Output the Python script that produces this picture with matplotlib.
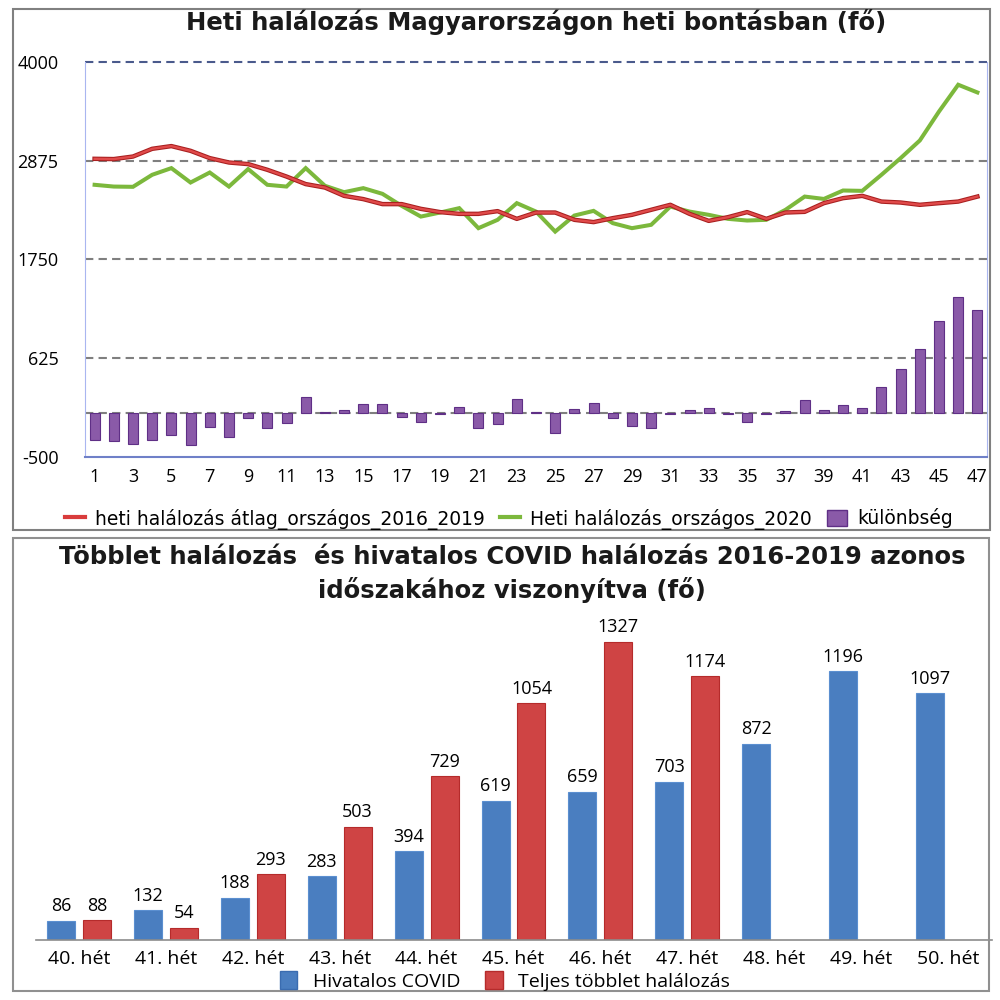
import numpy as np
import matplotlib
matplotlib.use('Agg')
import matplotlib.pyplot as plt
import matplotlib.patheffects as pe
from matplotlib.lines import Line2D
from matplotlib.patches import Patch, Rectangle

# --- adatok: felső ábra (heti halálozás) ---
weeks = np.arange(1, 48)
avg_2016_2019 = [2897, 2894, 2923, 3011, 3042, 2988, 2905, 2855, 2837, 2772,
                 2695, 2609, 2570, 2475, 2438, 2381, 2381, 2327, 2290, 2270,
                 2270, 2301, 2213, 2285, 2285, 2202, 2176, 2221, 2259, 2316,
                 2373, 2270, 2190, 2232, 2290, 2213, 2285, 2293, 2392, 2449,
                 2475, 2410, 2399, 2373, 2392, 2410, 2467]
deaths_2020 = [2601, 2581, 2578, 2715, 2791, 2627, 2741, 2581, 2780, 2601,
               2581, 2791, 2590, 2517, 2563, 2498, 2361, 2239, 2285, 2335,
               2107, 2202, 2392, 2296, 2068, 2251, 2304, 2164, 2107, 2145,
               2353, 2296, 2259, 2213, 2194, 2202, 2316, 2467, 2440, 2536,
               2532, 2715, 2905, 3106, 3436, 3741, 3653]
difference = [-306, -318, -352, -306, -253, -363, -158, -275, -52, -169,
              -116, 184, 15, 32, 108, 108, -41, -98, -5, 67,
              -169, -124, 165, 10, -230, 44, 119, -52, -147, -173,
              -15, 36, 59, -15, -98, -5, 24, 155, 40, 88,
              54, 293, 503, 729, 1054, 1327, 1174]
y_ticks = [-500, 625, 1750, 2875, 4000]

# --- adatok: alsó ábra (többlet vs. COVID) ---
week_labels = ['40. hét', '41. hét', '42. hét', '43. hét', '44. hét', '45. hét',
               '46. hét', '47. hét', '48. hét', '49. hét', '50. hét']
official_covid = [86, 132, 188, 283, 394, 619, 659, 703, 872, 1196, 1097]
excess_total = [88, 54, 293, 503, 729, 1054, 1327, 1174]

# színek
c_red = '#d93c3c'
c_red_dark = '#a81f1f'
c_green = '#7cb83c'
c_purple = '#8a5aa8'
c_blue_bar = '#4a7ec0'
c_red_bar = '#cf4444'
c_grid = '#7f7f7f'

label_font = ['Open Sans', 'DejaVu Sans']

fig = plt.figure(figsize=(10, 10), dpi=100)

# keretek a két panel körül
fig.patches.append(Rectangle((0.013, 0.470), 0.977, 0.521, transform=fig.transFigure,
                             fill=False, edgecolor='#808080', linewidth=1.5))
fig.patches.append(Rectangle((0.013, 0.009), 0.976, 0.453, transform=fig.transFigure,
                             fill=False, edgecolor='#909090', linewidth=1.5))

# ---------------- felső ábra ----------------
ax1 = fig.add_axes([0.085, 0.543, 0.902, 0.395])
ax1.set_xlim(0.5, 47.5)
ax1.set_ylim(-500, 4000)

for yv in [0, 625, 1750, 2875]:
    ax1.axhline(yv, color=c_grid, lw=1.5, ls=(0, (4, 2.5)), zorder=1)
ax1.axhline(4000, color='#4a5a8c', lw=1.5, ls=(0, (4, 2.5)), zorder=1, clip_on=False)

ax1.bar(weeks, difference, width=0.52, color=c_purple, edgecolor='#5f2f86',
        linewidth=0.8, zorder=2)
ax1.plot(weeks, deaths_2020, color=c_green, lw=2.9, zorder=3,
         solid_joinstyle='miter')
ax1.plot(weeks, avg_2016_2019, color='#e04a4a', lw=1.7, zorder=4,
         path_effects=[pe.Stroke(linewidth=3.2, foreground=c_red_dark), pe.Normal()])

ax1.set_yticks(y_ticks)
ax1.set_yticklabels([str(v) for v in y_ticks], fontsize=13, family=label_font)
ax1.set_xticks(range(1, 48, 2))
ax1.set_xticklabels([str(v) for v in range(1, 48, 2)], fontsize=13, family=label_font)
ax1.tick_params(axis='y', length=0, pad=19)
ax1.tick_params(axis='x', length=0, pad=8)

ax1.spines['top'].set_visible(False)
ax1.spines['left'].set_color('#a9b6f0')
ax1.spines['right'].set_color('#a9b6f0')
ax1.spines['bottom'].set_color('#6f80c8')
ax1.spines['bottom'].set_linewidth(1.5)

fig.text(0.536, 0.978, 'Heti halálozás Magyarországon heti bontásban (fő)',
         ha='center', va='center', fontsize=17.5, fontweight='bold', color='#1a1a1a')

top_handles = [Line2D([], [], color=c_red, lw=3),
               Line2D([], [], color=c_green, lw=3),
               Patch(facecolor=c_purple, edgecolor='#5f2f86')]
fig.legend(top_handles,
           ['heti halálozás átlag_országos_2016_2019', 'Heti halálozás_országos_2020',
            'különbség'],
           loc='center', bbox_to_anchor=(0.509, 0.481), ncol=3, frameon=False,
           fontsize=13.5, handlelength=1.07, handleheight=1.0, columnspacing=0.8,
           handletextpad=0.53)

# ---------------- alsó ábra ----------------
ax2 = fig.add_axes([0.0355, 0.06, 0.956, 0.3147])
x = np.arange(len(week_labels))
w = 0.322
off = 0.207
b1 = ax2.bar(x - off, official_covid, width=w, color=c_blue_bar,
             edgecolor='#5b8fd0', linewidth=0.8)
b2 = ax2.bar(x[:len(excess_total)] + off, excess_total, width=w, color=c_red_bar,
             edgecolor='#b52b2b', linewidth=0.8)
ax2.bar_label(b1, padding=4, fontsize=13, family=label_font)
ax2.bar_label(b2, padding=4, fontsize=13, family=label_font)

ax2.set_xlim(-0.5, len(week_labels) - 0.5)
ax2.set_ylim(0, 1400)
ax2.set_yticks([])
ax2.set_xticks(x)
ax2.set_xticklabels(week_labels, fontsize=14, family=label_font)
ax2.tick_params(axis='x', length=0, pad=7)
for s in ['top', 'left', 'right']:
    ax2.spines[s].set_visible(False)
ax2.spines['bottom'].set_color('#8c8c8c')
ax2.spines['bottom'].set_linewidth(1.2)

fig.text(0.5125, 0.443, 'Többlet halálozás  és hivatalos COVID halálozás 2016-2019 azonos',
         ha='center', va='center', fontsize=17.5, fontweight='bold', color='#1a1a1a')
fig.text(0.512, 0.410, 'időszakához viszonyítva (fő)',
         ha='center', va='center', fontsize=17.5, fontweight='bold', color='#1a1a1a')

bottom_handles = [Patch(facecolor=c_blue_bar, edgecolor='#3a6cb0'),
                  Patch(facecolor=c_red_bar, edgecolor='#b52b2b')]
fig.legend(bottom_handles, ['Hivatalos COVID', 'Teljes többlet halálozás'],
           loc='center', bbox_to_anchor=(0.505, 0.019), ncol=2, frameon=False,
           prop={'family': label_font, 'size': 14},
           handlelength=0.88, handleheight=1.0, columnspacing=1.3, handletextpad=0.8)

fig.savefig('out.png', dpi=100, facecolor='white')
